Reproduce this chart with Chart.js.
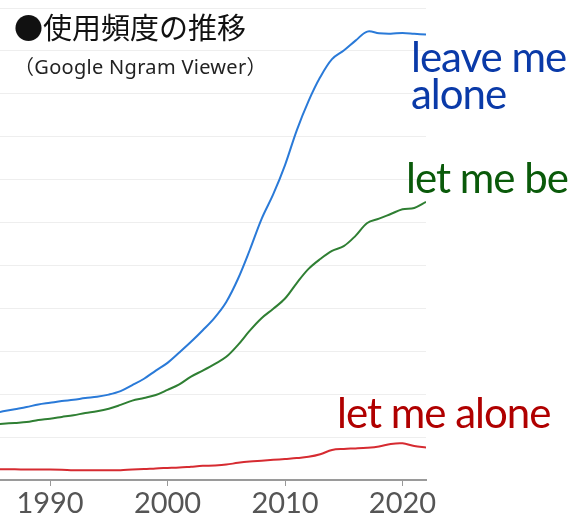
<!DOCTYPE html>
<html>
<head>
<meta charset="utf-8">
<script src="https://cdn.jsdelivr.net/npm/chart.js@4.4.1/dist/chart.umd.min.js"></script>
<style>
    body { margin: 0; background: #fff; }
    #wrap { position: relative; width: 580px; height: 522px; overflow: hidden; }
    #title {
        position: absolute; left: 14px; top: 12px;
        font: 400 29px "Noto Sans CJK JP"; line-height: 1; color: #111;
    }
    #subtitle {
        position: absolute; left: 14px; top: 57px;
        font: 400 20px "Noto Sans", "Noto Sans CJK JP"; line-height: 1; color: #222;
        letter-spacing: 0.3px;
    }
</style>
</head>
<body>
<div id="wrap">
    <canvas id="chart" width="580" height="522"></canvas>
    <div id="title">●使用頻度の推移</div>
    <div id="subtitle">（Google Ngram Viewer）</div>
</div>
<script>
// Data (relative frequency, arbitrary units)
const years = [1985, 1986, 1987, 1988, 1989, 1990, 1991, 1992, 1993, 1994,
    1995, 1996, 1997, 1998, 1999, 2000, 2001, 2002, 2003, 2004,
    2005, 2006, 2007, 2008, 2009, 2010, 2011, 2012, 2013, 2014,
    2015, 2016, 2017, 2018, 2019, 2020, 2021, 2022];

const leaveMeAlone = [1.55, 1.60, 1.65, 1.70, 1.76, 1.80, 1.84, 1.87, 1.91, 1.94,
    1.99, 2.07, 2.21, 2.36, 2.55, 2.73, 2.97, 3.22, 3.49, 3.78,
    4.15, 4.69, 5.36, 6.08, 6.66, 7.34, 8.15, 8.83, 9.39, 9.81,
    10.01, 10.24, 10.45, 10.41, 10.40, 10.42, 10.40, 10.38];

const letMeBe = [1.29, 1.31, 1.33, 1.35, 1.40, 1.43, 1.47, 1.51, 1.56, 1.60,
    1.66, 1.75, 1.85, 1.91, 1.98, 2.10, 2.23, 2.41, 2.55, 2.70,
    2.87, 3.15, 3.48, 3.77, 3.99, 4.23, 4.59, 4.92, 5.15, 5.34,
    5.45, 5.69, 5.99, 6.09, 6.20, 6.31, 6.34, 6.48];

const letMeAlone = [0.26, 0.25, 0.25, 0.245, 0.245, 0.245, 0.24, 0.23, 0.23, 0.23,
    0.23, 0.23, 0.245, 0.255, 0.27, 0.28, 0.29, 0.31, 0.33, 0.34,
    0.36, 0.40, 0.43, 0.45, 0.47, 0.49, 0.51, 0.54, 0.60, 0.70,
    0.725, 0.735, 0.75, 0.78, 0.84, 0.855, 0.79, 0.76];

const seriesNames = [['leave me', 'alone'], ['let me be'], ['let me alone']];
const xTicks = [1990, 2000, 2010, 2020];
const yGrid = [0, 1, 2, 3, 4, 5, 6, 7, 8, 9, 10, 11];

const LABEL_FONT = '400 42px Lato';

// Labels next to the end of each line
const lineLabels = {
    id: 'lineLabels',
    afterDatasetsDraw(chart) {
        const ctx = chart.ctx;
        chart.data.datasets.forEach((ds, i) => {
            const meta = chart.getDatasetMeta(i);
            const last = meta.data[meta.data.length - 1];
            const o = ds.labelOffset;
            ctx.save();
            ctx.font = LABEL_FONT;
            ctx.fillStyle = ds.labelColor;
            ctx.textBaseline = 'alphabetic';
            ctx.textAlign = 'left';
            ctx.letterSpacing = '-1px';
            seriesNames[i].forEach((line, k) => {
                ctx.fillText(line, last.x + o.dx, last.y + o.dy + k * 37);
            });
            ctx.restore();
        });
    }
};

const ctx = document.getElementById('chart').getContext('2d');
const chart = new Chart(ctx, {
    type: 'line',
    data: {
        labels: years,
        datasets: [{
            label: seriesNames[0].join(' '),
            data: years.map((y, i) => ({ x: y, y: leaveMeAlone[i] })),
            borderColor: '#2a7ad8',
            labelColor: '#0a3aa8',
            labelOffset: { dx: -15, dy: 37 }
        }, {
            label: seriesNames[1].join(' '),
            data: years.map((y, i) => ({ x: y, y: letMeBe[i] })),
            borderColor: '#2f7f33',
            labelColor: '#0a5a0a',
            labelOffset: { dx: -20, dy: -9 }
        }, {
            label: seriesNames[2].join(' '),
            data: years.map((y, i) => ({ x: y, y: letMeAlone[i] })),
            borderColor: '#d62b31',
            labelColor: '#b00000',
            labelOffset: { dx: -89, dy: -19 }
        }]
    },
    options: {
        responsive: false,
        animation: false,
        devicePixelRatio: 1,
        layout: { padding: { left: 0, right: 154, top: 8, bottom: 0 } },
        elements: {
            point: { radius: 0 },
            line: { borderWidth: 2, tension: 0.35, fill: false }
        },
        plugins: {
            legend: { display: false },
            tooltip: { enabled: false },
            title: { display: false }
        },
        scales: {
            x: {
                type: 'linear',
                min: 1985.74,
                max: 2022,
                afterBuildTicks: axis => { axis.ticks = xTicks.map(v => ({ value: v })); },
                afterFit: axis => { axis.height = 42; },
                grid: { drawOnChartArea: false, drawTicks: true, tickLength: 6, color: '#999', lineWidth: 1 },
                border: { display: true, color: '#9a9a9a', width: 2 },
                ticks: {
                    font: { family: 'Lato', size: 29, weight: 400 },
                    color: '#555',
                    padding: 0,
                    maxRotation: 0,
                    autoSkip: false,
                    callback: v => String(v)
                }
            },
            y: {
                min: 0,
                max: 11,
                afterBuildTicks: axis => { axis.ticks = yGrid.map(v => ({ value: v })); },
                afterFit: axis => { axis.width = 0; },
                grid: { color: '#eeeeee', lineWidth: 1, drawTicks: false },
                border: { display: false },
                ticks: { display: false }
            }
        }
    },
    plugins: [lineLabels]
});
</script>
</body>
</html>
